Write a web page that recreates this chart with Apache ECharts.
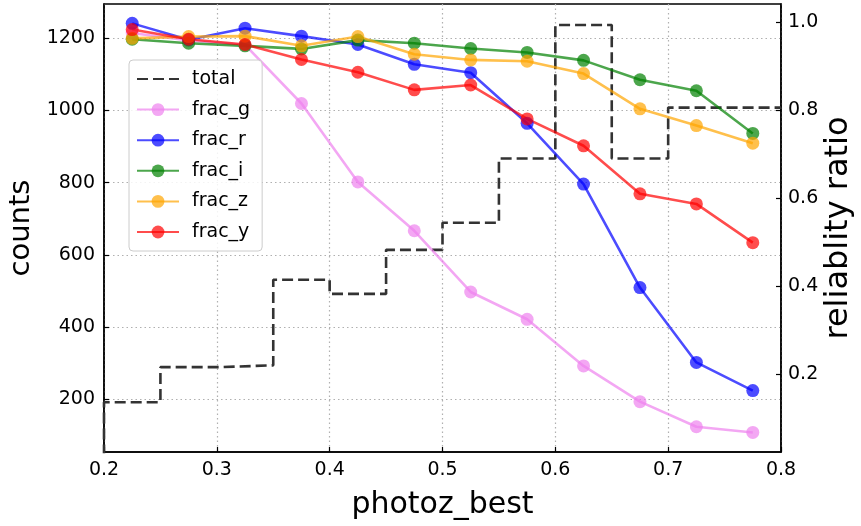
<!DOCTYPE html>
<html>
<head>
<meta charset="utf-8">
<script src="https://cdn.jsdelivr.net/npm/echarts@6/dist/echarts.min.js"></script>
<style>
  html, body { margin: 0; padding: 0; background: #fff; }
  #chart { width: 861px; height: 526px; }
</style>
</head>
<body>
<div id="chart"></div>
<script>
// Histogram bin edges (photoz_best) and counts per bin
const binEdges = [0.2, 0.25, 0.3, 0.35, 0.4, 0.45, 0.5, 0.55, 0.6, 0.65, 0.7, 0.75, 0.8];
const totalCounts = [192, 289, 294, 531, 492, 614, 689, 867, 1237, 867, 1008, 1008];

// Bin centres and reliability ratio per band
const binCentres = [0.225, 0.275, 0.325, 0.375, 0.425, 0.475, 0.525, 0.575, 0.625, 0.675, 0.725, 0.775];
const fracG = [0.975, 0.958, 0.948, 0.815, 0.637, 0.526, 0.387, 0.325, 0.219, 0.138, 0.081, 0.068];
const fracR = [0.997, 0.960, 0.986, 0.968, 0.949, 0.904, 0.885, 0.770, 0.632, 0.397, 0.227, 0.163];
const fracI = [0.961, 0.952, 0.946, 0.939, 0.959, 0.952, 0.940, 0.931, 0.913, 0.869, 0.844, 0.747];
const fracZ = [0.963, 0.967, 0.968, 0.946, 0.967, 0.927, 0.914, 0.911, 0.883, 0.803, 0.765, 0.725];
const fracY = [0.983, 0.961, 0.949, 0.915, 0.886, 0.846, 0.857, 0.780, 0.719, 0.610, 0.587, 0.499];

// Tick values
const countTicks = [200, 400, 600, 800, 1000, 1200];
const ratioTicks = [0.2, 0.4, 0.6, 0.8, 1.0];

const FONT = 'DejaVu Sans';

// Step outline of the histogram: rise from the baseline at the first edge,
// hold each count across its bin, end at the last edge.
const stepData = [[binEdges[0], 0]];
totalCounts.forEach((c, i) => stepData.push([binEdges[i], c]));
stepData.push([binEdges[binEdges.length - 1], totalCounts[totalCounts.length - 1]]);

function fracSeries(name, color, values) {
  return {
    name: name,
    type: 'line',
    yAxisIndex: 1,
    data: binCentres.map((x, i) => [x, values[i]]),
    symbol: 'circle',
    symbolSize: 13,
    showSymbol: true,
    lineStyle: { color: color, width: 2.6, opacity: 0.7 },
    itemStyle: { color: color, opacity: 0.7, borderWidth: 0 },
    emphasis: { disabled: true },
    z: 3
  };
}

const gridLine = { show: true, lineStyle: { color: '#b0b0b0', type: [1.5, 3], width: 1.2 } };

const chart = echarts.init(document.getElementById('chart'), null, { renderer: 'canvas' });
chart.setOption({
  animation: false,
  backgroundColor: '#fff',
  textStyle: { fontFamily: FONT },
  grid: {
    left: 104, right: 80, top: 4, bottom: 74,
    outerBoundsMode: 'none', containLabel: false,
    show: true, borderColor: '#000', borderWidth: 1.5, backgroundColor: 'transparent'
  },
  legend: {
    left: 129, top: 60,
    orient: 'vertical',
    itemWidth: 42, itemHeight: 16, itemGap: 10.6,
    padding: [9, 12, 9, 7],
    backgroundColor: 'rgba(255,255,255,0.85)',
    borderColor: '#cccccc', borderWidth: 1, borderRadius: 4,
    textStyle: { fontFamily: FONT, fontSize: 19, color: '#000', lineHeight: 20, padding: [0, 0, 0, 8] },
    data: [
      { name: 'total', itemStyle: { opacity: 0 } },
      'frac_g', 'frac_r', 'frac_i', 'frac_z', 'frac_y'
    ]
  },
  xAxis: {
    type: 'value', min: 0.2, max: 0.8, interval: 0.1,
    name: 'photoz_best', nameLocation: 'middle', nameGap: 38,
    nameTextStyle: { fontFamily: FONT, fontSize: 30, color: '#000' },
    axisLine: { show: true, lineStyle: { color: '#000', width: 1.5 } },
    axisTick: { show: true, inside: true, length: 5, lineStyle: { color: '#000', width: 1.2 } },
    axisLabel: { fontFamily: FONT, fontSize: 19, color: '#000', margin: 9,
                 formatter: v => v.toFixed(1) },
    splitLine: gridLine
  },
  yAxis: [
    {
      type: 'value', min: 54, max: 1295, position: 'left',
      name: 'counts', nameLocation: 'middle', nameGap: 62, nameRotate: 90,
      nameTextStyle: { fontFamily: FONT, fontSize: 29, color: '#000' },
      axisLine: { show: true, lineStyle: { color: '#000', width: 1.5 } },
      axisTick: { show: true, inside: true, length: 5, customValues: countTicks,
                  lineStyle: { color: '#000', width: 1.2 } },
      axisLabel: { fontFamily: FONT, fontSize: 19, color: '#000', margin: 9,
                   customValues: countTicks, formatter: v => String(Math.round(v)) },
      splitLine: gridLine
    },
    {
      type: 'value', min: 0.0236, max: 1.041, position: 'right',
      name: 'reliablity ratio', nameLocation: 'middle', nameGap: 42, nameRotate: 90,
      nameMoveOverlap: false,
      nameTextStyle: { fontFamily: FONT, fontSize: 32, color: '#000' },
      axisLine: { show: true, lineStyle: { color: '#000', width: 1.5 } },
      axisTick: { show: true, inside: true, length: 5, customValues: ratioTicks,
                  lineStyle: { color: '#000', width: 1.2 } },
      axisLabel: { fontFamily: FONT, fontSize: 19, color: '#000', margin: 7,
                   customValues: ratioTicks, formatter: v => v.toFixed(1) },
      splitLine: { show: false }
    }
  ],
  series: [
    {
      name: 'total',
      type: 'line',
      yAxisIndex: 0,
      step: 'end',
      data: stepData,
      symbol: 'none',
      clip: true,
      lineStyle: { color: '#333333', width: 2.6, type: [11, 5] },
      itemStyle: { color: '#333333' },
      emphasis: { disabled: true },
      z: 2
    },
    fracSeries('frac_g', '#EE82EE', fracG),
    fracSeries('frac_r', '#0000FF', fracR),
    fracSeries('frac_i', '#008000', fracI),
    fracSeries('frac_z', '#FFA500', fracZ),
    fracSeries('frac_y', '#FF0000', fracY)
  ]
});
</script>
</body>
</html>
